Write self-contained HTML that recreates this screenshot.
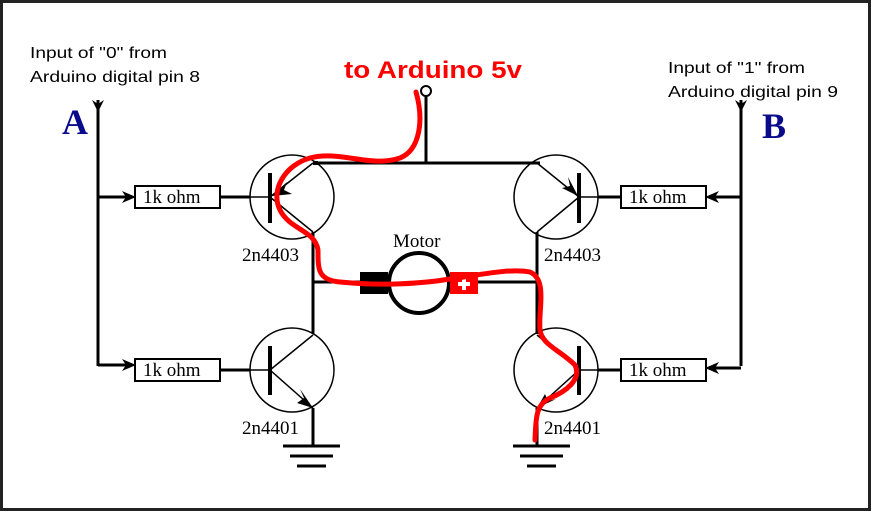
<!DOCTYPE html>
<html><head><meta charset="utf-8"><style>
html,body{margin:0;padding:0;background:#fff;}
svg{display:block;}
</style></head><body>
<svg width="871" height="511" viewBox="0 0 871 511" xmlns="http://www.w3.org/2000/svg">
<rect x="1.5" y="1.5" width="868" height="508" fill="#fff" stroke="#222" stroke-width="3"/>
<g font-family="Liberation Sans, sans-serif" font-size="16" fill="#000">
<text x="30" y="58" textLength="137" lengthAdjust="spacingAndGlyphs">Input of "0" from</text>
<text x="30" y="82" textLength="170" lengthAdjust="spacingAndGlyphs">Arduino digital pin 8</text>
<text x="668" y="73" textLength="137" lengthAdjust="spacingAndGlyphs">Input of "1" from</text>
<text x="668" y="97" textLength="170" lengthAdjust="spacingAndGlyphs">Arduino digital pin 9</text>
</g>
<text x="344" y="78" font-family="Liberation Sans, sans-serif" font-weight="bold" font-size="24" fill="#f00" textLength="178" lengthAdjust="spacingAndGlyphs">to Arduino 5v</text>
<g font-family="Liberation Serif, serif" font-weight="bold" font-size="36" fill="#0a0a8a">
<text x="62" y="134">A</text>
<text x="762" y="138">B</text>
</g>
<g stroke="#000" stroke-width="3" fill="none">
<line x1="98" y1="100" x2="98" y2="366"/>
<line x1="741" y1="100" x2="741" y2="366"/>
<line x1="98" y1="197" x2="130" y2="197"/>
<line x1="98" y1="365" x2="130" y2="365"/>
<line x1="741" y1="197" x2="712" y2="197"/>
<line x1="741" y1="368" x2="712" y2="368"/>
<line x1="220" y1="197" x2="250" y2="197"/>
<line x1="220" y1="370" x2="250" y2="370"/>
<line x1="598" y1="197" x2="620" y2="197"/>
<line x1="598" y1="370" x2="620" y2="370"/>
<line x1="318" y1="163" x2="540" y2="163"/>
<line x1="426" y1="163" x2="426" y2="96"/>
<line x1="313" y1="232" x2="313" y2="334"/>
<line x1="537" y1="232" x2="537" y2="334"/>
<line x1="313" y1="282" x2="390" y2="282"/>
<line x1="478" y1="282" x2="537" y2="282"/>
<line x1="313" y1="408" x2="313" y2="445"/>
<line x1="537" y1="408" x2="537" y2="445"/>
<line x1="283" y1="446" x2="340" y2="446"/><line x1="290" y1="456" x2="333" y2="456"/><line x1="297" y1="466" x2="326" y2="466"/>
<line x1="513" y1="446" x2="570" y2="446"/><line x1="520" y1="456" x2="563" y2="456"/><line x1="527" y1="466" x2="556" y2="466"/>
<circle cx="419" cy="283" r="30" stroke-width="4"/>
</g>
<circle cx="426" cy="91" r="5" fill="#fff" stroke="#000" stroke-width="2"/>
<g fill="#000">
<polygon points="92,100 98,112 104,100 98,104"/>
<polygon points="735,100 741,112 747,100 741,104"/>
<polygon points="136,197 122,191 126,197 122,203"/>
<polygon points="136,365 122,359 126,365 122,371"/>
<polygon points="705,197 719,191 715,197 719,203"/>
<polygon points="705,368 719,362 715,368 719,374"/>
</g>
<g fill="#fff" stroke="#000" stroke-width="2">
<rect x="135" y="186" width="85" height="22"/>
<rect x="135" y="359" width="85" height="22"/>
<rect x="621" y="186" width="85" height="22"/>
<rect x="621" y="359" width="85" height="22"/>
</g>
<g font-family="Liberation Serif, serif" font-size="19" fill="#000">
<text x="143" y="203">1k ohm</text><text x="143" y="376">1k ohm</text>
<text x="629" y="203">1k ohm</text><text x="629" y="376">1k ohm</text>
<text x="242" y="261">2n4403</text><text x="242" y="434">2n4401</text>
<text x="544" y="261">2n4403</text><text x="544" y="434">2n4401</text>
<text x="393" y="247">Motor</text>
</g>
<g stroke="#000" fill="none" stroke-width="1.5">
<circle cx="292" cy="197" r="42"/><circle cx="292" cy="370" r="42"/>
<circle cx="556" cy="197" r="42"/><circle cx="556" cy="370" r="42"/>
<line x1="250" y1="197" x2="270" y2="197"/><line x1="250" y1="370" x2="270" y2="370"/>
<line x1="579" y1="197" x2="598" y2="197"/><line x1="579" y1="370" x2="598" y2="370"/>
<line x1="270" y1="197" x2="313" y2="163"/><line x1="270" y1="197" x2="313" y2="232"/>
<line x1="270" y1="370" x2="313" y2="335"/><line x1="270" y1="370" x2="313" y2="408"/>
<line x1="579" y1="197" x2="537" y2="163"/><line x1="579" y1="197" x2="537" y2="232"/>
<line x1="579" y1="370" x2="537" y2="335"/><line x1="579" y1="370" x2="537" y2="408"/>
</g>
<g stroke="#000" stroke-width="4">
<line x1="270" y1="173" x2="270" y2="223"/><line x1="270" y1="346" x2="270" y2="395"/>
<line x1="579" y1="173" x2="579" y2="223"/><line x1="579" y1="346" x2="579" y2="395"/>
<line x1="313" y1="163" x2="318" y2="163"/>
</g>
<g fill="#000">
<polygon points="272,196 287,182 284,190 292,194"/>
<polygon points="313,408 297,403 304,398 300,389"/>
<polygon points="578,196 562,188 570,186 568,177"/>
<polygon points="537,408 545,394 548,401 556,399"/>
</g>
<rect x="360" y="272" width="28" height="22" fill="#000"/>
<rect x="450" y="272" width="28" height="22" fill="#f00"/>
<path d="M458,284 h12 M464,278 v12" stroke="#fff" stroke-width="4"/>
<path d="M416,92 C424,120 420,150 400,158 C370,168 340,150 310,158 C285,165 270,190 280,210 C290,230 315,230 318,250 C318,270 318,280 340,282 C380,286 420,284 450,279 C480,275 510,268 530,272 C548,280 538,310 540,330 C542,345 560,350 575,365 C582,380 565,392 550,398 C535,405 536,420 535,440" stroke="#f00" stroke-width="5" fill="none" stroke-linecap="round"/>
</svg>
</body></html>
